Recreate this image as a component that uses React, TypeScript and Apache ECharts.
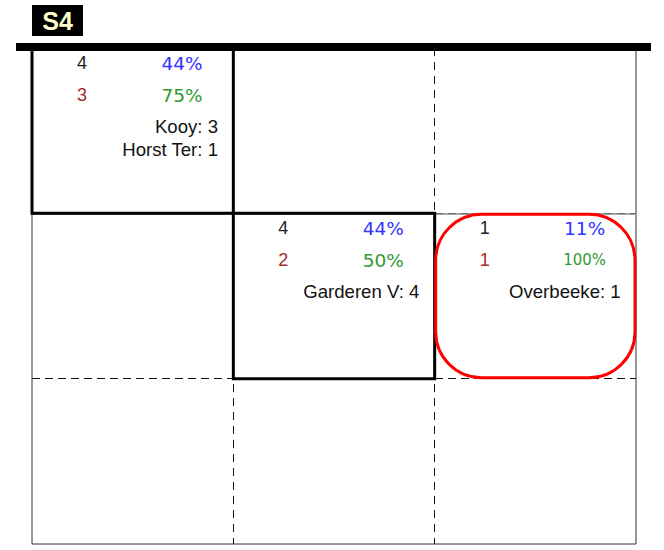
import React, { useEffect, useRef } from "react";
import * as echarts from "echarts";

// ---- data ----
const cellCol = [0, 1, 2];
const cellRow = [0, 1, 1];
const totalCounts = [4, 4, 1];
const totalPct = [44, 44, 11];
const subCounts = [3, 2, 1];
const subPct = [75, 50, 100];
const cellNames = [["Kooy: 3", "Horst Ter: 1"], ["Garderen V: 4"], ["Overbeeke: 1"]];
const frameKind = ["box", "box", "round"];
const title = "S4";

const PCT_FONT = "DejaVu Sans";
const TXT_FONT = "Liberation Sans, Arial, sans-serif";

let measureCtx: CanvasRenderingContext2D | null = null;
function pctFontSize(text: string): number {
  if (!measureCtx) {
    const c = document.createElement("canvas");
    measureCtx = c.getContext("2d");
  }
  if (!measureCtx) return 17;
  measureCtx.font = `16px "${PCT_FONT}"`;
  const w = measureCtx.measureText(text).width || 36;
  return Math.min(18.5, (16 * 43) / w);
}

export default function App() {
  const ref = useRef<HTMLDivElement>(null);
  useEffect(() => {
    if (!ref.current) return;
    const chart = echarts.init(ref.current, undefined, { renderer: "svg" });
    const data = cellCol.map((c, i) => [c, cellRow[i], i]);
    chart.setOption({
      animation: false,
      grid: {
        left: 32,
        right: 28,
        top: 48,
        bottom: 6,
        show: true,
        borderColor: "#333",
        borderWidth: 1,
      },
      xAxis: {
        type: "value",
        min: 0,
        max: 3,
        interval: 1,
        axisLabel: { show: false },
        axisTick: { show: false },
        axisLine: { show: false },
        splitLine: {
          show: true,
          showMinLine: false,
          showMaxLine: false,
          lineStyle: { color: "#111", width: 1, type: [8, 6] },
        },
      },
      yAxis: {
        type: "value",
        inverse: true,
        min: 0,
        max: 3,
        interval: 1,
        axisLabel: { show: false },
        axisTick: { show: false },
        axisLine: { show: false },
        splitLine: {
          show: true,
          showMinLine: false,
          showMaxLine: false,
          lineStyle: { color: "#111", width: 1, type: [8, 5] },
        },
      },
      graphic: [
        {
          type: "rect",
          shape: { x: 16, y: 43, width: 635, height: 8 },
          style: { fill: "#000" },
          z: 100,
        },
        {
          type: "rect",
          shape: { x: 32, y: 5, width: 51, height: 31 },
          style: { fill: "#000" },
          z: 100,
        },
        {
          type: "text",
          x: 57.5,
          y: 21,
          style: {
            text: title,
            fill: "#ffffcc",
            font: `bold 25px ${TXT_FONT}`,
            align: "center",
            verticalAlign: "middle",
          },
          z: 101,
        },
      ],
      series: [
        {
          type: "custom",
          data,
          encode: { x: 0, y: 1 },
          markLine: {
            silent: true,
            symbol: "none",
            label: { show: false },
            lineStyle: { color: "#888", width: 1.5, type: "solid" },
            data: [{ yAxis: 1 }],
          },
          renderItem: (params: any, api: any) => {
            const col = api.value(0);
            const row = api.value(1);
            const i = api.value(2);
            const tl = api.coord([col, row]);
            const br = api.coord([col + 1, row + 1]);
            const x0 = tl[0];
            const y0 = tl[1];
            const w = br[0] - tl[0];
            const h = br[1] - tl[1];
            const children: any[] = [];
            if (frameKind[i] === "box") {
              children.push({
                type: "rect",
                shape: { x: x0, y: y0, width: w, height: h },
                style: { fill: "none", stroke: "#000", lineWidth: 3 },
              });
            } else {
              children.push({
                type: "rect",
                shape: { x: x0 + 1, y: y0 + 1, width: w - 2, height: h - 2, r: 46 },
                style: { fill: "none", stroke: "#ff0000", lineWidth: 3 },
              });
            }
            const cx = x0 + 50;
            const px = x0 + 150;
            const r1 = y0 + 15;
            const r2 = y0 + 47;
            const p1 = `${totalPct[i]}%`;
            const p2 = `${subPct[i]}%`;
            children.push(
              {
                type: "text",
                style: {
                  text: String(totalCounts[i]),
                  x: cx,
                  y: r1,
                  fill: "#222",
                  font: `18px ${TXT_FONT}`,
                  align: "center",
                  verticalAlign: "middle",
                },
              },
              {
                type: "text",
                style: {
                  text: p1,
                  x: px,
                  y: r1,
                  fill: "#3333ff",
                  font: `${pctFontSize(p1).toFixed(1)}px "${PCT_FONT}"`,
                  align: "center",
                  verticalAlign: "middle",
                },
              },
              {
                type: "text",
                style: {
                  text: String(subCounts[i]),
                  x: cx,
                  y: r2,
                  fill: "#a52a2a",
                  font: `18px ${TXT_FONT}`,
                  align: "center",
                  verticalAlign: "middle",
                },
              },
              {
                type: "text",
                style: {
                  text: p2,
                  x: px,
                  y: r2,
                  fill: "#339933",
                  font: `${pctFontSize(p2).toFixed(1)}px "${PCT_FONT}"`,
                  align: "center",
                  verticalAlign: "middle",
                },
              }
            );
            cellNames[i].forEach((n, k) => {
              children.push({
                type: "text",
                style: {
                  text: n,
                  x: x0 + 186,
                  y: y0 + 78 + k * 23,
                  fill: "#111",
                  font: `18.6px ${TXT_FONT}`,
                  align: "right",
                  verticalAlign: "middle",
                },
              });
            });
            return { type: "group", children };
          },
          z: 10,
        },
      ],
    });
    return () => chart.dispose();
  }, []);
  return (
    <div
      ref={ref}
      style={{ position: "fixed", left: 0, top: 0, width: 664, height: 550, background: "#fff" }}
    />
  );
}
